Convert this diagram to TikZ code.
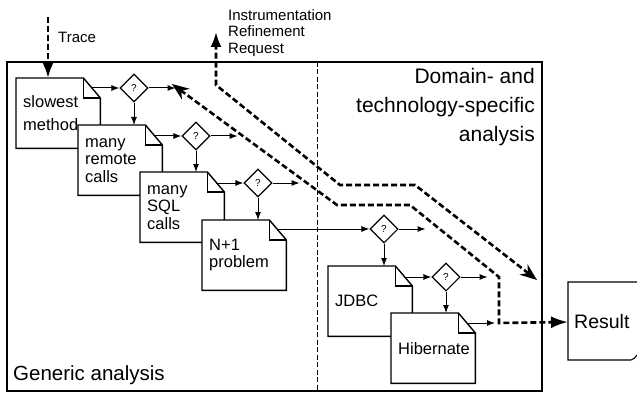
\documentclass[tikz,border=0pt]{standalone}
\usepackage{fontspec}
\setmainfont{Liberation Sans}
\usetikzlibrary{arrows.meta,shapes.geometric}

\tikzset{
  doc/.style={anchor=north west,fill=white,text width=70pt,inner xsep=7pt,
    minimum height=70pt,align=left,font=\fontsize{16.5}{17.5}\selectfont},
  query/.style={diamond,draw,fill=white,line width=1.1pt,inner sep=0pt,
    minimum width=28pt,minimum height=28pt,font=\fontsize{10}{12}\selectfont},
  flow/.style={-{Latex[length=8pt,width=6pt]},line width=1pt},
  route/.style={line width=2.6pt,dash pattern=on 6pt off 3pt},
  label/.style={inner sep=0pt,font=\fontsize{15}{16.5}\selectfont},
}

% outline of a sheet with a folded corner
\newcommand\docframe[1]{%
  \draw[line width=1.4pt] (#1.north west) -- ([xshift=-17pt]#1.north east)
    -- ([yshift=-20pt]#1.north east) -- (#1.south east) -- (#1.south west) -- cycle;
  \draw[line width=1.4pt] ([xshift=-17pt]#1.north east)
    -- ([xshift=-17pt,yshift=-20pt]#1.north east) -- ([yshift=-20pt]#1.north east);}

\begin{document}
\begin{tikzpicture}[x=1pt,y=-1pt]

\useasboundingbox (0,0) rectangle (637,393);
\clip (0,0) rectangle (637,393);

\draw[line width=1.4pt] (7,62) rectangle (542,391);
\draw[line width=1pt,dash pattern=on 5pt off 2.5pt] (317,62) -- (317,391);

\node[anchor=west,inner sep=0pt,font=\fontsize{20.5}{24}\selectfont] (generic) at (13,375) {Generic analysis};
\node[anchor=east,align=right,inner sep=0pt,font=\fontsize{21}{29}\selectfont] (domain) at (535,107)
	{Domain- and\\technology-specific\\analysis};

\node[label,anchor=west] (tracelbl) at (58,37) {Trace};
\node[label,anchor=west,align=left] (request) at (228,33) {Instrumentation\\Refinement\\Request};

% generic chain
\node[doc] (slowest) at (16,78) {slowest\\[5pt]method};
\docframe{slowest}
\node[query] (q1) at (134,88) {?};

\node[doc] (remote) at (78,125) {many\\remote\\calls};
\docframe{remote}
\node[query] (q2) at (196,136) {?};

\node[doc] (sql) at (140,172) {many\\SQL\\calls};
\docframe{sql}
\node[query] (q3) at (258,183) {?};

\node[doc] (nplus) at (202,220) {N+1\\problem};
\docframe{nplus}
\node[query] (q4) at (384,229) {?};

% specific chain
\node[doc] (jdbc) at (328,266) {JDBC};
\docframe{jdbc}
\node[query] (q5) at (446,277) {?};

\node[doc] (hibernate) at (391,313) {Hibernate};
\docframe{hibernate}

\draw[flow] ([xshift=-8pt]q1 -| slowest.east) -- (q1.west);
\draw[flow] (q1.east) -- ++(27,0);
\draw[flow] (q1.south) -- (q1 |- remote.north);

\draw[flow] ([xshift=-8pt]q2 -| remote.east) -- (q2.west);
\draw[flow] (q2.east) -- ++(27,0);
\draw[flow] (q2.south) -- (q2 |- sql.north);

\draw[flow] ([xshift=-8pt]q3 -| sql.east) -- (q3.west);
\draw[flow] (q3.east) -- ++(27,0);
\draw[flow] (q3.south) -- (q3 |- nplus.north);

\draw[flow] ([xshift=-9pt]q4 -| nplus.east) -- (q4.west);
\draw[flow] (q4.east) -- ++(27,0);
\draw[flow] (q4.south) -- (q4 |- jdbc.north);

\draw[flow] ([xshift=-8pt]q5 -| jdbc.east) -- (q5.west);
\draw[flow] (q5.east) -- ++(27,0);
\draw[flow] (q5.south) -- (q5 |- hibernate.north);

\coordinate (join) at (499,323);
\draw[flow] ([xshift=-8pt]join -| hibernate.east) -- ([xshift=-4pt]join);

% result sheet
\node[anchor=west,inner xsep=6pt,font=\fontsize{19.5}{22}\selectfont] (result) at (568,322) {Result};
\draw[line width=1.1pt] (660,282) -- (568,282) -- (568,360) -- (631,360)
	.. controls (634,360) and (635,357) .. (637,355);

% trace in, request out
\coordinate (tracein) at (48,17);
\draw[route,-{Latex[length=15pt,width=11pt]}] (tracein) -- (tracein |- slowest.north);

\coordinate (refine) at (216,32);
\coordinate (back) at (537,280);
\draw[route,{Stealth[length=17pt,width=13pt]}-{Latex[length=15pt,width=11pt]}]
	(back) -- (415,185) -- (340,185) -- (216,85) -- (refine);

\coordinate (collect) at (172,84);
\draw[route,{Stealth[length=17pt,width=13pt]}-{Latex[length=17pt,width=12pt]}]
	(collect) -- (337,205) -- (410,205) -- (499,277) -- (join) -- (result.west);

\end{tikzpicture}
\end{document}
